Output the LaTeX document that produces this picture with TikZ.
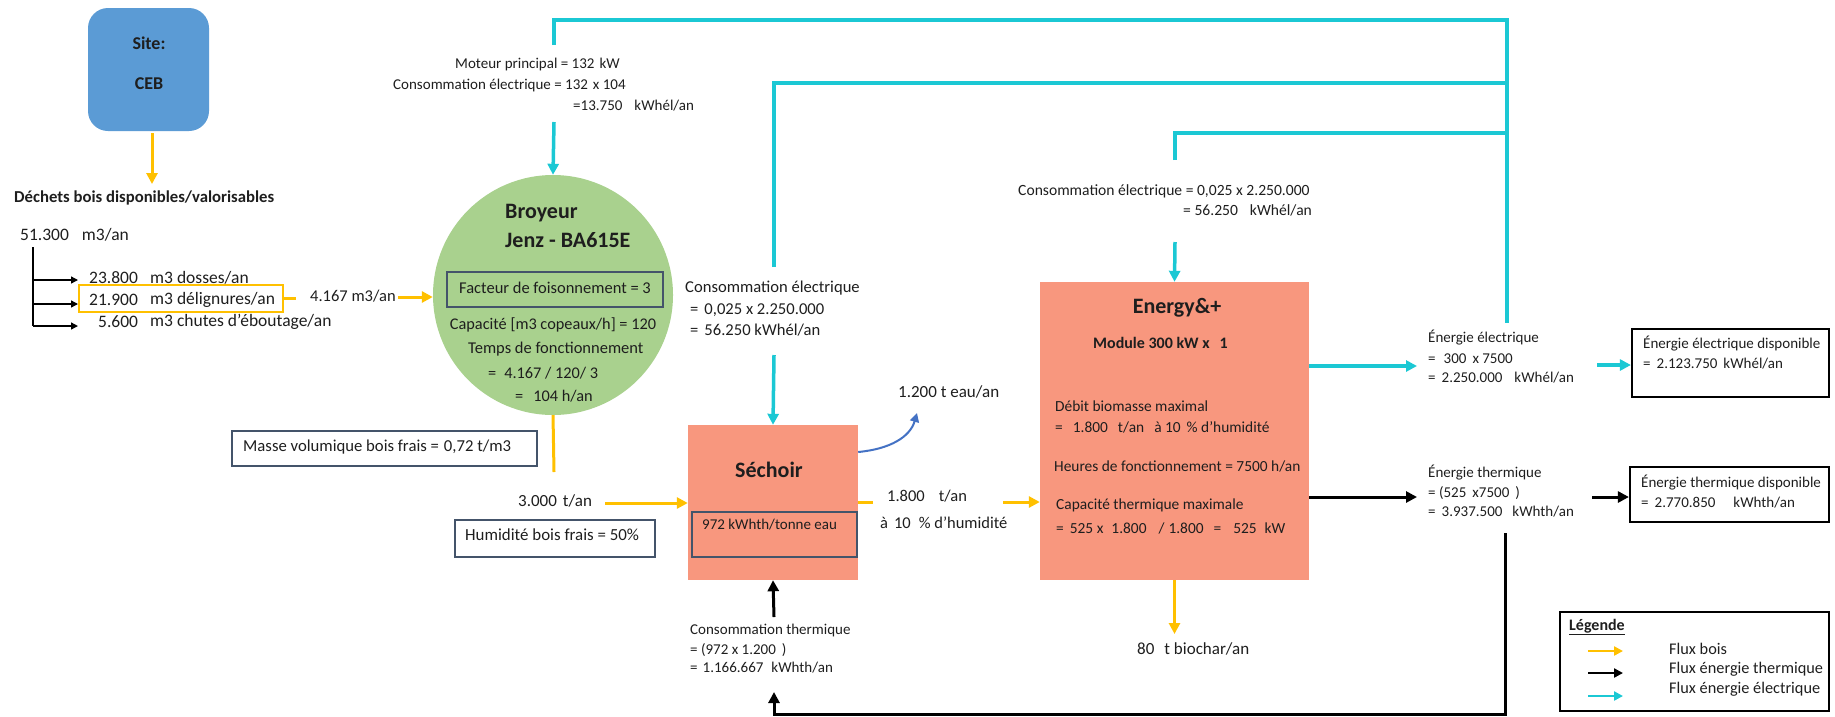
\documentclass[tikz,border=0pt]{standalone}
\usepackage{fontspec}
\setmainfont{Carlito}
\usetikzlibrary{arrows.meta}
\definecolor{orng}{HTML}{FFC000}
\definecolor{cyn}{HTML}{1BC8D4}
\definecolor{grn}{HTML}{A9D18E}
\definecolor{slm}{HTML}{F8977E}
\definecolor{blu}{HTML}{5B9BD5}
\definecolor{crv}{HTML}{4472C4}
\definecolor{slate}{HTML}{44546A}
\definecolor{ink}{HTML}{1E1E1E}
\newcommand\mygap[1]{\hspace*{#1pt}}
\begin{document}
\begin{tikzpicture}[x=1pt,y=-1pt,
  txt/.style={anchor=west,inner sep=0pt,text=ink,font=\fontsize{#1}{#1}\selectfont},
  txt/.default=15,
  ctxt/.style={inner sep=0pt,text=ink,font=\fontsize{#1}{#1}\selectfont},
  ctxt/.default=15,
  btxt/.style={inner sep=0pt,text=ink,font=\bfseries\fontsize{#1}{#1}\selectfont},
  tip/.style={-{Triangle[length=11pt,width=11pt]}},
  smalltip/.style={-{Triangle[length=7pt,width=7pt]}},
  bois/.style={draw=orng,line width=3pt},
  therm/.style={draw=black,line width=3pt},
  elec/.style={draw=cyn,line width=3.5pt},
  plainbox/.style={draw=slate,line width=1.2pt,inner sep=0pt},
  blackbox/.style={draw=black,line width=2.2pt,inner sep=0pt},
  procbox/.style={fill=slm,inner sep=0pt},
]
\useasboundingbox (0,0) rectangle (1835,716);

% ---------- Site ----------
\node[fill=blu,rounded corners=20pt,minimum width=121pt,minimum height=123pt,inner sep=0pt] (site) at (148.5,69.5) {};
\node[btxt=18] (sitet) at (149,43) {Site:};
\node[btxt=18] (ceb) at (149,84) {CEB};
\coordinate (s0) at (152,133);
\coordinate (s1) at (152,184);
\draw[bois,tip] (s0) -- (s1);
\node[btxt=16.7,anchor=west] (dechets) at (14,198) {Déchets bois disponibles/valorisables};

\node[txt=17.5] (tot) at (20,235) {51.300\mygap{13}m3/an};
\coordinate (t0) at (33,247);
\coordinate (t1) at (33,280);
\coordinate (t2) at (33,304);
\coordinate (t3) at (33,326);
\coordinate (t1e) at (78,280);
\coordinate (t2e) at (78,304);
\coordinate (t3e) at (78,326);
\draw[line width=1.4pt] (t0) -- (t3);
\draw[line width=1.4pt,smalltip] (t1) -- (t1e);
\draw[line width=1.4pt,smalltip] (t2) -- (t2e);
\draw[line width=1.4pt,smalltip] (t3) -- (t3e);
\node[txt=17.5] (n1) at (89,278) {23.800};
\node[txt=17.5] (n1b) at (150,278) {m3 dosses/an};
\node[txt=17.5] (n2) at (89,300) {21.900};
\node[txt=17.5] (n2b) at (150,300) {m3 délignures/an};
\node[txt=17.5] (n3) at (98,322) {5.600};
\node[txt=17.5] (n3b) at (150,322) {m3 chutes d'éboutage/an};
\node[draw=orng,line width=2.5pt,minimum width=204pt,minimum height=27pt,inner sep=0pt] (dbox) at (181,298.5) {};
\coordinate (o6) at (296,298);
\draw[bois] (dbox.east |- o6) -- (o6);
\node[txt=16.5] (vol) at (310,296) {4.167 m3/an};
\coordinate (o7) at (398,297);

% ---------- Broyeur ----------
\node[circle,fill=grn,minimum size=240pt,inner sep=0pt] (broy) at (553,295) {};
\draw[bois,tip] (o7) -- (o7 -| broy.west);
\node[btxt=22,anchor=west] (bt1) at (505,213) {Broyeur};
\node[btxt=22,anchor=west] (bt2) at (505,240) {Jenz - BA615E};
\node[plainbox,minimum width=216pt,minimum height=35pt] (fbox) at (555,289.5) {};
\node[ctxt=16.5] (fact) at (555,288) {Facteur de foisonnement = 3};
\node[ctxt=16.3] (cap) at (553,325) {Capacité [m3 copeaux/h] = 120};
\node[txt=16.5] (temps) at (468,349) {Temps de fonctionnement};
\node[txt=16.3] (tcalc) at (488,373) {=\mygap{8}4.167 / 120/ 3};
\node[txt=16.3] (tres) at (515,396) {=\mygap{10}104 h/an};

\node[txt] (mot1) at (455,64) {Moteur principal = 132\mygap{5}kW};
\node[txt] (mot2) at (393,85) {Consommation électrique = 132\mygap{5}x 104};
\node[txt] (mot3) at (573,106) {=13.750\mygap{12}kWhél/an};

\node[plainbox,minimum width=305pt,minimum height=35pt] (mbox) at (384.5,448.5) {};
\node[txt=16.7] (masse) at (243,447) {Masse volumique bois frais =\mygap{5}0,72 t/m3};

\coordinate (o1) at (554,472);
\draw[bois] (broy.south) -- (o1);
\node[txt=17] (t3000) at (518,501) {3.000\mygap{6}t/an};
\node[plainbox,minimum width=200pt,minimum height=37pt] (hbox) at (555,538.5) {};
\node[txt=16.9] (humi) at (465,535) {Humidité bois frais = 50\%};

% ---------- Sechoir ----------
\node[procbox,minimum width=170pt,minimum height=155pt] (sech) at (773,502.5) {};
\node[btxt=22] (secht) at (769,470) {Séchoir};
\node[plainbox,minimum width=165pt,minimum height=45pt] (sbox) at (774.5,534.5) {};
\node[txt] (s972) at (702,525) {972 kWhth/tonne eau};
\coordinate (o2) at (605,503);
\draw[bois,tip] (o2) -- (o2 -| sech.west);

\node[txt=16.6] (ce1) at (685,288) {Consommation électrique};
\node[txt=16.6] (ce2) at (690,310) {=\mygap{6}0,025 x 2.250.000};
\node[txt=16.6] (ce3) at (690,330) {=\mygap{6}56.250 kWhél/an};

\node[txt=17] (eau) at (898,392) {1.200 t eau/an};
\coordinate (eauend) at (917,413);
\draw[crv,line width=2pt,-{Triangle[length=9pt,width=9pt]}] (sech.east |- 0,452) .. controls (890,449) and (910,437) .. (eauend);

\coordinate (o3) at (873,502);
\draw[bois] (sech.east |- o3) -- (o3);
\node[txt=16.5] (t1800) at (887,496) {1.800\mygap{14}t/an};
\node[txt=16.5] (hum10) at (880,523) {à\mygap{6}10\mygap{8}\% d'humidité};
\coordinate (o4) at (1003,502);

\coordinate (ct) at (774,617);
\draw[therm,tip] (ct) -- (sech.south);
\node[txt] (cth1) at (690,630) {Consommation thermique};
\node[txt] (cth2) at (690,650) {= (972 x 1.200\mygap{6})};
\node[txt] (cth3) at (690,668) {=\mygap{5}1.166.667\mygap{8}kWhth/an};

% ---------- Energy ----------
\node[procbox,minimum width=269pt,minimum height=298pt] (en) at (1174.5,431) {};
\draw[bois,tip] (o4) -- (o4 -| en.west);
\node[btxt=22] (ent) at (1177,308) {Energy\&+};
\node[btxt=16,anchor=west] (mod) at (1093,343) {Module 300 kW x\mygap{10}1};
\node[txt=15.4] (e1) at (1055,406) {Débit biomasse maximal};
\node[txt=15.4] (e2) at (1055,427) {=\mygap{10}1.800\mygap{10}t/an\mygap{10}à 10\mygap{6}\% d'humidité};
\node[txt=15.4] (e3) at (1054,466) {Heures de fonctionnement = 7500 h/an};
\node[txt=15.4] (e4) at (1056,505) {Capacité thermique maximale};
\node[txt=15.4] (e5) at (1056,528) {=\mygap{6}525 x\mygap{8}1.800\mygap{12}/\mygap{4}1.800\mygap{10}=\mygap{12}525\mygap{8}kW};
\node[txt=15.6] (ee1) at (1018,191) {Consommation électrique = 0,025 x 2.250.000};
\node[txt=15.6] (ee2) at (1183,210) {= 56.250\mygap{12}kWhél/an};

\coordinate (o5) at (1174.5,634);
\draw[bois,tip] (en.south) -- (o5);
\node[txt=17] (bio) at (1137,649) {80\mygap{10}t biochar/an};

% ---------- Electric network ----------
\coordinate (c1a) at (554,45);
\coordinate (c1b) at (554,122);
\coordinate (c2a) at (774,267);
\coordinate (c2b) at (774,355);
\coordinate (c3a) at (1175,160);
\coordinate (c3b) at (1175,242);
\coordinate (cTop) at (1507,20);
\coordinate (cM2) at (1507,83);
\coordinate (cM3) at (1507,133);
\coordinate (cR) at (1507,323);
\draw[elec] (c1a) |- (cTop) -- (cR);
\draw[elec] (c2a) |- (cM2);
\draw[elec] (c3a) |- (cM3);
\draw[elec,tip] (c1b) -- (broy.north);
\draw[elec,tip] (c2b) -- (sech.north);
\draw[elec,tip] (c3b) -- (en.north);

% ---------- Outputs ----------
\coordinate (eo1) at (en.east |- 0,366);
\coordinate (eo2) at (1417,366);
\draw[elec,tip] (eo1) -- (eo2);
\node[txt] (el1) at (1428,338) {Énergie électrique};
\node[txt] (el2) at (1428,359) {=\mygap{8}300\mygap{6}x 7500};
\node[txt] (el3) at (1428,378) {=\mygap{6}2.250.000\mygap{12}kWhél/an};
\node[blackbox,minimum width=197pt,minimum height=68pt] (edisp) at (1730.5,363) {};
\coordinate (eo3) at (1597,365);
\draw[elec,tip] (eo3) -- (eo3 -| edisp.west);
\node[txt] (ed1) at (1643,344) {Énergie électrique disponible};
\node[txt] (ed2) at (1643,364) {=\mygap{6}2.123.750\mygap{6}kWhél/an};

\coordinate (to1) at (en.east |- 0,497);
\coordinate (to2) at (1417,497);
\draw[therm,tip] (to1) -- (to2);
\node[txt] (th1) at (1428,473) {Énergie thermique};
\node[txt] (th2) at (1428,493) {= (525\mygap{6}x7500\mygap{6})};
\node[txt] (th3) at (1428,512) {=\mygap{6}3.937.500\mygap{10}kWhth/an};
\node[blackbox,minimum width=199pt,minimum height=55pt] (tdisp) at (1729.5,494.5) {};
\coordinate (to3) at (1592,497);
\draw[therm,tip] (to3) -- (to3 -| tdisp.west);
\node[txt] (td1) at (1641,483) {Énergie thermique disponible};
\node[txt] (td2) at (1641,503) {=\mygap{6}2.770.850\mygap{18}kWhth/an};

\coordinate (bl1) at (1505,533);
\coordinate (bl2) at (774,714);
\coordinate (bl3) at (774,692);
\draw[therm,tip] (bl1) |- (bl2) -- (bl3);

% ---------- Legend ----------
\node[draw=black,line width=1.3pt,minimum width=269pt,minimum height=99pt,inner sep=0pt] (leg) at (1694.5,661.5) {};
\node[btxt=16,anchor=west] (legt) at (1569,627) {\underline{Légende}};
\coordinate (l1a) at (1588,651);
\coordinate (l1b) at (1623,651);
\coordinate (l2a) at (1588,673);
\coordinate (l2b) at (1623,673);
\coordinate (l3a) at (1588,696);
\coordinate (l3b) at (1623,696);
\draw[bois,line width=2.5pt,-{Triangle[length=9pt,width=9pt]}] (l1a) -- (l1b);
\draw[therm,line width=2.5pt,-{Triangle[length=9pt,width=9pt]}] (l2a) -- (l2b);
\draw[elec,line width=2.5pt,-{Triangle[length=9pt,width=9pt]}] (l3a) -- (l3b);
\node[txt=16.3] (lg1) at (1669,649) {Flux bois};
\node[txt=16.3] (lg2) at (1669,669) {Flux énergie thermique};
\node[txt=16.3] (lg3) at (1669,689) {Flux énergie électrique};
\end{tikzpicture}
\end{document}
